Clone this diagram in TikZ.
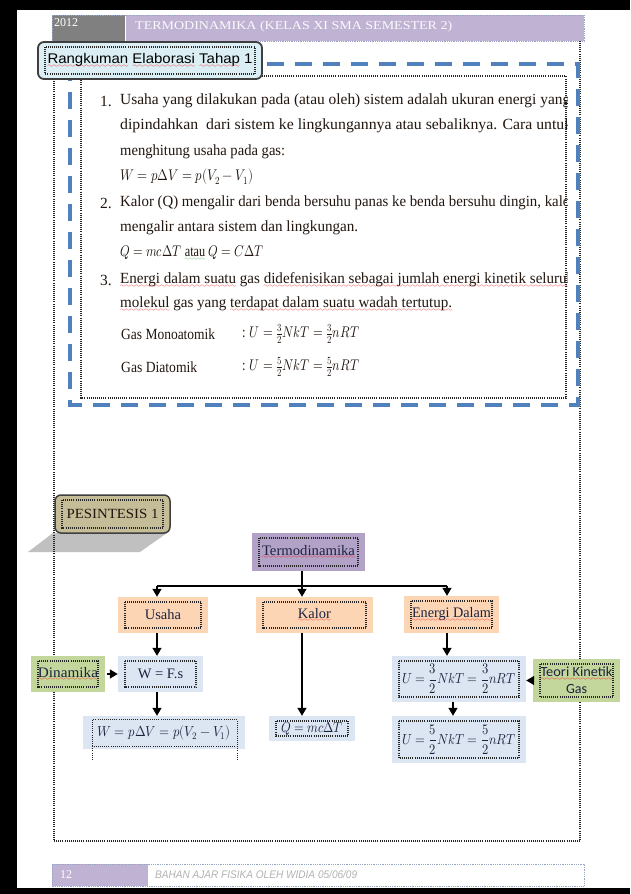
\documentclass[tikz,border=0pt]{standalone}
\usepackage{amsmath}
\usepackage{fontspec}
\usepackage{unicode-math}
\setmainfont{Liberation Serif}
\setsansfont{Liberation Sans}
\newfontfamily\carlito{Carlito}
\usepackage{graphicx}
\usetikzlibrary{arrows.meta}

\definecolor{abu}{HTML}{808080}
\definecolor{unguhead}{HTML}{BFB2D3}
\definecolor{ungu}{HTML}{B3A2C7}
\definecolor{persik}{HTML}{FCD5B5}
\definecolor{birumuda}{HTML}{DCE6F2}
\definecolor{hijau}{HTML}{C3D69B}
\definecolor{khaki}{HTML}{C4BD97}
\definecolor{cyanmuda}{HTML}{DAEEF3}
\definecolor{biru}{HTML}{4F81BD}
\definecolor{bayang}{HTML}{C0C0C0}
\definecolor{gelap}{HTML}{3F3F3F}
\definecolor{teks}{HTML}{22160F}
\definecolor{tekskotak}{HTML}{1E2240}
\definecolor{garistepi}{HTML}{98A4C4}
\definecolor{hijaugaris}{HTML}{3C9A3C}

% garis berombak (tanda ejaan)
\font\gelfont=lasy6
\newbox\kotakgel
\newcommand\gelombangwarna[2]{\setbox\kotakgel=\hbox{#2}%
  \rlap{\lower3.5pt\hbox to \wd\kotakgel{\color{#1}\xleaders\hbox{\gelfont\char58}\hfill}}\box\kotakgel}
\newcommand\gelombang[1]{\gelombangwarna{red}{#1}}
\newcommand\gelombanghijau[1]{\gelombangwarna{hijaugaris}{#1}}
\newcommand\lebar[2]{\resizebox{#1}{\height}{#2}}

\tikzset{
  titik/.style={draw=black!85,line width=1.1pt,dash pattern=on 0.9pt off 1.2pt,sharp corners},
  titikhalus/.style={draw=#1,line width=0.8pt,dash pattern=on 0.8pt off 1pt},
  kotak/.style={fill=#1,inner sep=0pt,text=tekskotak,font=\fontsize{14.5}{16}\selectfont,
    path picture={\draw[titik] ([shift={(7pt,-5pt)}]path picture bounding box.north west)
      rectangle ([shift={(-7pt,5pt)}]path picture bounding box.south east);}},
  garis/.style={draw=black,line width=1.3pt},
  panah/.style={garis,-{Triangle[length=8pt,width=9pt]}},
  baris/.style={anchor=west,inner sep=0pt,text=teks,font=\fontsize{15.5}{18}\selectfont},
  putus/.style={draw=biru,line width=4pt,dash pattern=on 17pt off 11pt},
}

\begin{document}
\begin{tikzpicture}[x=1pt,y=-1pt]
  \fill[white] (0,0) rectangle (630,894);
  \useasboundingbox (0,0) rectangle (630,894);
  % bingkai hitam hasil pindai
  \fill[black] (0,0) rectangle (630,10);
  \fill[black] (0,0) rectangle (17,894);
  \fill[black] (0,888) rectangle (630,894);
  % kepala halaman
  \fill[abu] (52,15) rectangle (125,41);
  \fill[unguhead] (126,15) rectangle (584,41);
  \draw[titikhalus=garistepi] (52,15) rectangle (584,41);
  \node[anchor=west,inner sep=0pt,text=white,font=\fontsize{12}{14}\selectfont] (tahun) at (54,23) {2012};
  \node[anchor=west,inner sep=0pt,text=white!94!unguhead,font=\fontsize{12}{14}\selectfont] (judul) at (135,27)
    {\lebar{317pt}{TERMODINAMIKA (KELAS XI SMA SEMESTER 2)}};
  % bayangan pesintesis
  \fill[bayang] (53,533) -- (167,533) -- (140,552) -- (28,552) -- cycle;
  % batas halaman
  \draw[titik] (54,41) -- (54,841) -- (580,841) -- (580,41);
  % rangkuman
  \draw[putus] (70,64) rectangle (578,405);
  \draw[titik] (81,76) rectangle (566,398);
  \node[kotak=cyanmuda,draw=gelap,line width=1.8pt,rounded corners=6pt,minimum width=224pt,minimum height=37pt,
        text=black,font=\sffamily\fontsize{14}{16}\selectfont] (rangkuman) at (150,60.5)
    {\lebar{205pt}{\gelombang{Rangkuman} \gelombang{Elaborasi} \gelombang{Tahap} 1}};
  \begin{scope}
    \clip (81,76) rectangle (567,398);
    \foreach \n/\y [count=\i] in {1./101,2./203,3./280}
      \node[baris] (nomor\i) at (100,\y) {\n};
    \node[baris] (b1) at (120,101) {\lebar{450pt}{Usaha yang dilakukan pada (atau oleh) sistem adalah ukuran energi yang}};
    \node[baris] (b2) at (120,126) {\lebar{452pt}{dipindahkan \ dari sistem ke lingkungannya atau sebaliknya. Cara untuk}};
    \node[baris] (b3) at (120,152) {\lebar{165pt}{menghitung usaha pada gas:}};
    \node[baris] (b4) at (120,177) {\lebar{133pt}{$W = p\Delta V = p(V_2 - V_1)$}};
    \node[baris] (b5) at (120,203) {\lebar{455pt}{Kalor (Q) mengalir dari benda bersuhu panas ke benda bersuhu dingin, kalor}};
    \node[baris] (b6) at (120,228) {\lebar{238pt}{mengalir antara sistem dan lingkungan.}};
    \node[baris] (b7) at (120,253) {\lebar{143pt}{$Q = mc\Delta T$ \gelombanghijau{atau} $Q = C\Delta T$}};
    \node[baris] (b8) at (120,280) {\lebar{454pt}{\gelombang{Energi dalam suatu} gas \gelombang{didefenisikan sebagai jumlah energi kinetik seluruh}}};
    \node[baris] (b9) at (120,304) {\lebar{332pt}{\gelombang{molekul} gas yang \gelombang{terdapat dalam suatu wadah tertutup.}}};
    \node[baris] (mono) at (121,334) {\lebar{94pt}{Gas Monoatomik}};
    \node[baris] (monorumus) at (242,334) {\lebar{117pt}{: $U = \tfrac{3}{2}NkT = \tfrac{3}{2}nRT$}};
    \node[baris] (dia) at (121,367) {\lebar{76pt}{Gas Diatomik}};
    \node[baris] (diarumus) at (242,367) {\lebar{117pt}{: $U = \tfrac{5}{2}NkT = \tfrac{5}{2}nRT$}};
  \end{scope}
  % pesintesis
  \node[kotak=khaki,draw=gelap,line width=1.5pt,rounded corners=6pt,minimum width=115pt,minimum height=38pt,
        text=teks,font=\fontsize{14}{16}\selectfont] (pesintesis) at (112.5,514) {\lebar{92pt}{PESINTESIS 1}};
  % peta konsep
  \node[kotak=ungu,minimum width=113pt,minimum height=38pt] (termo) at (308.5,552) {\lebar{93pt}{\gelombang{Termodinamika}}};
  \node[kotak=persik,minimum width=90pt,minimum height=36pt] (usaha) at (163,615) {Usaha};
  \node[kotak=persik,minimum width=117pt,minimum height=36pt] (kalor) at (314.5,615) {\gelombang{Kalor}};
  \node[kotak=persik,minimum width=95pt,minimum height=37pt] (energi) at (451.5,614.5) {\lebar{79pt}{\gelombang{Energi Dalam}}};
  \node[kotak=hijau,minimum width=74pt,minimum height=36pt] (dinamika) at (68,674) {\lebar{60pt}{\gelombang{Dinamika}}};
  \node[kotak=birumuda,minimum width=85pt,minimum height=36pt] (wfs) at (160.5,674) {W = F.s};
  \node[fill=birumuda,inner sep=0pt,text=tekskotak,font=\fontsize{14.5}{16}\selectfont,
        minimum width=162pt,minimum height=33pt] (wpv) at (164,732.5) {\lebar{133pt}{$W = p\Delta V = p(V_2 - V_1)$}};
  \draw[titik] ([shift={(10pt,-4pt)}]wpv.north west) rectangle ([shift={(-8pt,3pt)}]wpv.south east);
  \draw[titik] ([shift={(10pt,3pt)}]wpv.south west) -- ++(0,14);
  \draw[titik] ([shift={(-8pt,3pt)}]wpv.south east) -- ++(0,14);
  \node[kotak=birumuda,minimum width=86pt,minimum height=25pt] (qbox) at (312,728.5) {\lebar{62pt}{$Q = mc\Delta T$}};
  \node[kotak=birumuda,minimum width=134pt,minimum height=46pt] (u1) at (459,679) {\lebar{114pt}{$U = \dfrac{3}{2}NkT = \dfrac{3}{2}nRT$}};
  \node[kotak=birumuda,minimum width=134pt,minimum height=47pt] (u2) at (459,739.5) {\lebar{114pt}{$U = \dfrac{5}{2}NkT = \dfrac{5}{2}nRT$}};
  \node[kotak=hijau,minimum width=87pt,minimum height=43pt,align=center,
        font=\carlito\fontsize{14}{17}\selectfont] (teori) at (576.5,680.5) {\lebar{72pt}{\gelombang{Teori Kinetik}}\\Gas};
  % penghubung
  \coordinate (cabangkiri) at (157,586);
  \coordinate (cabangtengah) at (302,586);
  \coordinate (cabangkanan) at (447,586);
  \coordinate (cabangkanan2) at (453,586);
  \draw[garis] (cabangkiri) -- (cabangkanan);
  \draw[panah] (cabangtengah |- termo.south) -- (cabangtengah |- kalor.north);
  \draw[panah] (cabangkiri) -- (cabangkiri |- usaha.north);
  \draw[panah] (cabangkanan) -- (cabangkanan |- energi.north);
  \draw[panah] (cabangkiri |- usaha.south) -- (cabangkiri |- wfs.north);
  \draw[panah] (cabangkiri |- wfs.south) -- (cabangkiri |- wpv.north);
  \draw[panah] (cabangtengah |- kalor.south) -- (cabangtengah |- qbox.north);
  \draw[panah] (cabangkanan |- energi.south) -- (cabangkanan |- u1.north);
  \draw[panah] (cabangkanan2 |- u1.south) -- (cabangkanan2 |- u2.north);
  \draw[panah,shorten <=2pt] (dinamika.east) -- (wfs.west);
  \draw[panah] (teori.west) -- (teori.west -| u1.east);
  % kaki halaman
  \fill[unguhead] (52,864) rectangle (148,886);
  \draw[titikhalus=garistepi] (52,864) rectangle (584,886);
  \node[anchor=west,inner sep=0pt,text=white,font=\fontsize{12}{14}\selectfont] (halaman) at (60,875) {12};
  \node[anchor=west,inner sep=0pt,text=black!30,font=\sffamily\itshape\fontsize{11}{13}\selectfont] (kaki) at (155,875)
    {\lebar{202pt}{BAHAN AJAR FISIKA OLEH WIDIA 05/06/09}};
\end{tikzpicture}
\end{document}
